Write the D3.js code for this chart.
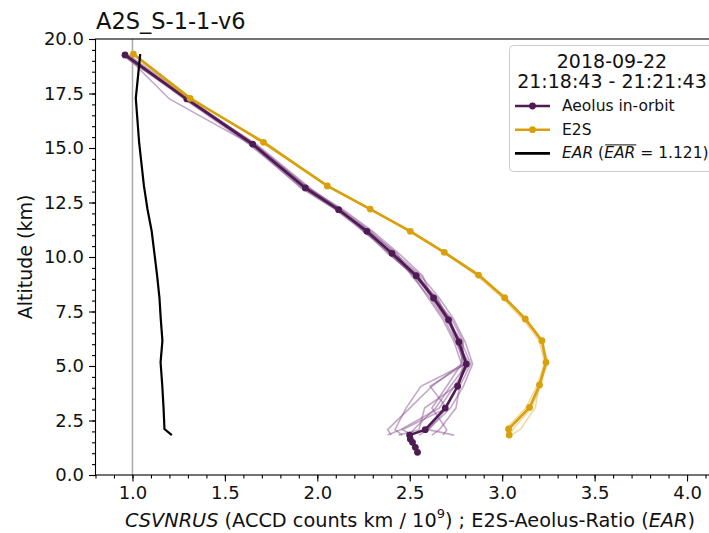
<!DOCTYPE html>
<html>
<head>
<meta charset="utf-8">
<script src="https://cdn.jsdelivr.net/npm/d3@7"></script>
<style>
  body { margin: 0; background: #fff; }
  svg { display: block; font-family: "DejaVu Sans", sans-serif; }
</style>
</head>
<body>
<svg id="chart" width="709" height="533"></svg>
<script>
// Aeolus in-orbit mean profile (CSVNRUS vs altitude km)
const aeolusAlt = [19.27, 17.25, 15.18, 13.17, 12.17, 11.18, 10.17, 9.14, 8.12, 7.12, 6.10, 5.09, 4.07, 3.07, 2.08, 1.83, 1.65, 1.50, 1.27, 1.04];
const aeolusX   = [0.96, 1.294, 1.65, 1.935, 2.115, 2.268, 2.404, 2.535, 2.629, 2.71, 2.766, 2.806, 2.759, 2.692, 2.584, 2.499, 2.503, 2.515, 2.53, 2.542];

// E2S mean profile
const e2sAlt = [19.31, 17.28, 15.26, 13.26, 12.20, 11.18, 10.21, 9.17, 8.13, 7.16, 6.16, 5.17, 4.13, 3.10, 2.11, 1.83];
const e2sX   = [1.005, 1.312, 1.709, 2.054, 2.286, 2.503, 2.687, 2.872, 3.013, 3.125, 3.215, 3.237, 3.202, 3.148, 3.035, 3.038];

// E2S-Aeolus-Ratio, on the E2S altitudes
const earX = [1.042, 1.018, 1.036, 1.062, 1.081, 1.104, 1.118, 1.133, 1.146, 1.153, 1.162, 1.152, 1.161, 1.168, 1.173, 1.213];
const earMean = 1.121;

// single Aeolus observations (faint lines)
const singleAlt = [19.27, 17.25, 15.18, 13.17, 12.17, 11.18, 10.17, 9.14, 8.12, 7.12, 6.10, 5.09, 4.07, 3.07, 2.08, 1.83];
const aeolusSingles = [
  [0.95, 1.28, 1.63, 1.92, 2.10, 2.25, 2.39, 2.52, 2.60, 2.68, 2.74, 2.78, 2.62, 2.50, 2.38, 2.40],
  [0.97, 1.30, 1.66, 1.95, 2.13, 2.29, 2.42, 2.56, 2.66, 2.74, 2.80, 2.84, 2.79, 2.72, 2.60, 2.55],
  [0.96, 1.20, 1.64, 1.93, 2.11, 2.27, 2.40, 2.54, 2.64, 2.72, 2.76, 2.82, 2.74, 2.66, 2.45, 2.38],
  [0.94, 1.29, 1.67, 1.96, 2.12, 2.26, 2.41, 2.55, 2.63, 2.73, 2.79, 2.78, 2.70, 2.62, 2.70, 2.68],
  [0.98, 1.31, 1.65, 1.94, 2.12, 2.28, 2.43, 2.51, 2.61, 2.69, 2.75, 2.80, 2.56, 2.48, 2.42, 2.46],
  [0.95, 1.29, 1.64, 1.91, 2.10, 2.26, 2.38, 2.53, 2.65, 2.71, 2.78, 2.83, 2.77, 2.75, 2.66, 2.62],
  [0.96, 1.30, 1.66, 1.95, 2.14, 2.30, 2.44, 2.57, 2.62, 2.70, 2.77, 2.81, 2.72, 2.64, 2.52, 2.50],
  [0.97, 1.28, 1.65, 1.93, 2.11, 2.27, 2.39, 2.52, 2.64, 2.72, 2.76, 2.79, 2.76, 2.70, 2.60, 2.74],
  [0.96, 1.29, 1.64, 1.94, 2.13, 2.25, 2.41, 2.54, 2.63, 2.70, 2.78, 2.80, 2.61, 2.70, 2.46, 2.52],
  [0.95, 1.30, 1.66, 1.92, 2.12, 2.28, 2.40, 2.53, 2.62, 2.71, 2.75, 2.82, 2.75, 2.58, 2.55, 2.44]
];
// single E2S simulations (faint lines)
const e2sSingles = [
  [1.00, 1.31, 1.71, 2.06, 2.29, 2.51, 2.69, 2.88, 3.02, 3.13, 3.22, 3.24, 3.21, 3.16, 3.06, 3.04],
  [1.01, 1.32, 1.70, 2.05, 2.28, 2.50, 2.68, 2.86, 3.00, 3.11, 3.20, 3.23, 3.19, 3.13, 3.02, 3.03],
  [1.00, 1.30, 1.72, 2.05, 2.29, 2.50, 2.69, 2.88, 3.01, 3.12, 3.21, 3.25, 3.20, 3.18, 3.10, 3.05]
];

const xTicks = [1.0, 1.5, 2.0, 2.5, 3.0, 3.5, 4.0];
const yTicks = [0, 2.5, 5, 7.5, 10, 12.5, 15, 17.5, 20];

const titleText = 'A2S_S-1-1-v6';
const legendTitle = ['2018-09-22', '21:18:43 - 21:21:43'];

const colors = { aeolus: '#4e1b52', e2s: '#d9a00c', ear: '#000', single: '#8a5290', ref: '#aaaaaa' };

const margin = { left: 95.5, top: 39, bottom: 475, right: 724 };
const svg = d3.select('#chart');

const x = d3.scaleLinear().domain([0.8, 4.2]).range([margin.left, margin.right]);
const y = d3.scaleLinear().domain([0, 20]).range([margin.bottom, margin.top]);

svg.append('clipPath').attr('id', 'plot-clip')
  .append('rect')
  .attr('x', margin.left).attr('y', margin.top)
  .attr('width', margin.right - margin.left).attr('height', margin.bottom - margin.top);

const plot = svg.append('g').attr('clip-path', 'url(#plot-clip)');

// reference line at ratio 1
plot.append('line')
  .attr('x1', x(1)).attr('x2', x(1))
  .attr('y1', y(0)).attr('y2', y(20))
  .attr('stroke', colors.ref).attr('stroke-width', 1.5);

const line = d3.line().x(d => x(d[0])).y(d => y(d[1]));

// faint single profiles
aeolusSingles.forEach(p => {
  plot.append('path')
    .datum(p.map((v, i) => [v, singleAlt[i]]))
    .attr('d', line)
    .attr('fill', 'none')
    .attr('stroke', colors.single)
    .attr('stroke-opacity', 0.5)
    .attr('stroke-width', 1.6);
});

// Aeolus mean
const aeolusData = aeolusX.map((v, i) => [v, aeolusAlt[i]]);
plot.append('path').datum(aeolusData)
  .attr('d', line).attr('fill', 'none')
  .attr('stroke', colors.aeolus).attr('stroke-width', 2.6);
plot.selectAll('.aeolus-dot').data(aeolusData).enter()
  .append('circle')
  .attr('cx', d => x(d[0])).attr('cy', d => y(d[1]))
  .attr('r', 3.4).attr('fill', colors.aeolus);

e2sSingles.forEach(p => {
  plot.append('path')
    .datum(p.map((v, i) => [v, e2sAlt[i]]))
    .attr('d', line)
    .attr('fill', 'none')
    .attr('stroke', colors.e2s)
    .attr('stroke-opacity', 0.4)
    .attr('stroke-width', 1.5);
});

// E2S mean
const e2sData = e2sX.map((v, i) => [v, e2sAlt[i]]);
plot.append('path').datum(e2sData)
  .attr('d', line).attr('fill', 'none')
  .attr('stroke', colors.e2s).attr('stroke-width', 2.6);
plot.selectAll('.e2s-dot').data(e2sData).enter()
  .append('circle')
  .attr('cx', d => x(d[0])).attr('cy', d => y(d[1]))
  .attr('r', 3.4).attr('fill', colors.e2s);

// EAR
plot.append('path')
  .datum(earX.map((v, i) => [v, e2sAlt[i]]))
  .attr('d', line).attr('fill', 'none')
  .attr('stroke', colors.ear).attr('stroke-width', 2.2);

// frame (left, bottom, top visible)
svg.append('rect')
  .attr('x', margin.left).attr('y', margin.top)
  .attr('width', margin.right - margin.left).attr('height', margin.bottom - margin.top)
  .attr('fill', 'none').attr('stroke', '#000').attr('stroke-width', 1.1);

// axes
const xAxis = svg.append('g').attr('transform', `translate(0,${margin.bottom})`);
xAxis.call(d3.axisBottom(x).tickValues(d3.range(0.8, 4.21, 0.1)).tickSize(3.5).tickFormat(''));
xAxis.append('g').call(d3.axisBottom(x).tickValues(xTicks).tickSize(6.5).tickPadding(5).tickFormat(d3.format('.1f')));

const yAxis = svg.append('g').attr('transform', `translate(${margin.left},0)`);
yAxis.call(d3.axisLeft(y).tickValues(d3.range(0, 20.01, 0.5)).tickSize(3.5).tickFormat(''));
yAxis.append('g').call(d3.axisLeft(y).tickValues(yTicks).tickSize(6.5).tickPadding(5).tickFormat(d3.format('.1f')));

svg.selectAll('.domain').remove();
svg.selectAll('.tick line').attr('stroke', '#000').attr('stroke-width', 1.1);
svg.selectAll('.tick text')
  .attr('font-family', '"DejaVu Sans", sans-serif')
  .attr('font-size', '18px').attr('fill', '#111');

// title
svg.append('text')
  .attr('x', 96).attr('y', 21)
  .attr('dominant-baseline', 'central')
  .attr('font-size', '22.5px').attr('fill', '#111')
  .text(titleText);

// x label
const xl = svg.append('text')
  .attr('x', 410).attr('y', 520)
  .attr('text-anchor', 'middle').attr('dominant-baseline', 'central')
  .attr('font-size', '19.3px').attr('fill', '#111');
xl.append('tspan').attr('font-style', 'italic').text('CSVNRUS');
xl.append('tspan').text(' (ACCD counts km / 10');
xl.append('tspan').attr('font-size', '13px').attr('dy', -7).text('9');
xl.append('tspan').attr('dy', 7).text(') ; E2S-Aeolus-Ratio (');
xl.append('tspan').attr('font-style', 'italic').text('EAR');
xl.append('tspan').text(')');

// y label
svg.append('text')
  .attr('transform', `translate(25,${(margin.top + margin.bottom) / 2}) rotate(-90)`)
  .attr('text-anchor', 'middle').attr('dominant-baseline', 'central')
  .attr('font-size', '19px').attr('fill', '#111')
  .text('Altitude (km)');

// legend
const lg = svg.append('g').attr('class', 'legend');
lg.append('rect')
  .attr('x', 509.5).attr('y', 45.5).attr('width', 240).attr('height', 126)
  .attr('rx', 4).attr('fill', '#fff').attr('fill-opacity', 0.85)
  .attr('stroke', '#cccccc').attr('stroke-width', 1);

legendTitle.forEach((t, i) => {
  lg.append('text')
    .attr('x', 612).attr('y', 61 + i * 20)
    .attr('text-anchor', 'middle').attr('dominant-baseline', 'central')
    .attr('font-size', '19px').attr('fill', '#111')
    .text(t);
});

const legendItems = [
  { label: 'Aeolus in-orbit', color: colors.aeolus, dot: true },
  { label: 'E2S', color: colors.e2s, dot: true },
  { label: null, color: colors.ear, dot: false }
];
legendItems.forEach((d, i) => {
  const yy = 106 + i * 23.7;
  lg.append('line')
    .attr('x1', 515).attr('x2', 550).attr('y1', yy).attr('y2', yy)
    .attr('stroke', d.color).attr('stroke-width', 2.6);
  if (d.dot) {
    lg.append('circle').attr('cx', 532.5).attr('cy', yy).attr('r', 3.4).attr('fill', d.color);
  }
  const t = lg.append('text')
    .attr('x', 562).attr('y', yy)
    .attr('dominant-baseline', 'central')
    .attr('font-size', '15.5px').attr('fill', '#111');
  if (d.label) {
    t.text(d.label);
  } else {
    t.append('tspan').attr('font-style', 'italic').text('EAR');
    t.append('tspan').text(' (');
    const bar = t.append('tspan').attr('font-style', 'italic').text('EAR');
    t.append('tspan').text(' = ' + earMean.toFixed(3) + ')');
    // overline above the mean symbol
    const start = 562 + t.node().getSubStringLength(0, 5);
    const w = bar.node().getComputedTextLength();
    lg.append('line')
      .attr('x1', start + 1).attr('x2', start + w + 1)
      .attr('y1', yy - 8.5).attr('y2', yy - 8.5)
      .attr('stroke', '#111').attr('stroke-width', 1);
  }
});
</script>
</body>
</html>
